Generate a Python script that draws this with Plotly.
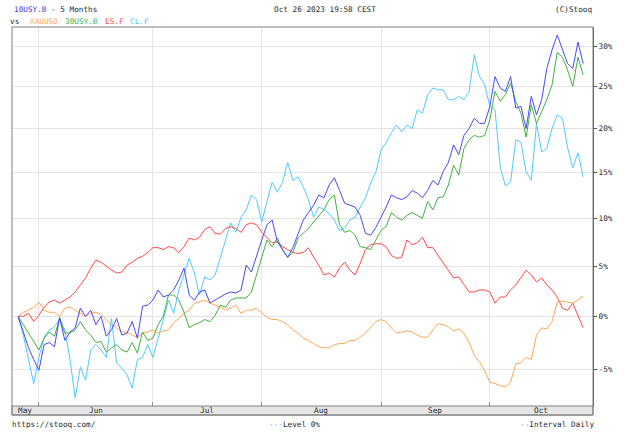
import numpy as np
import pandas as pd
import plotly.graph_objects as go

# ---------------- data (percent change since start) ----------------
dates = pd.bdate_range("2023-05-26", "2023-10-26")  # daily trading sessions

usy10 = [0.0, -1.6, -3.0, -4.1, -5.1, -2.7, -2.5, -2.9, -0.1, -2.3,
         -1.5, -1.1, 0.8, 0.0, 0.6, -0.8, 0.0, -1.9, -1.3, -0.2,
         -1.8, -1.6, -0.5, -2.1, 1.0, 1.1, 1.6, 2.6, 1.9, 2.1,
         2.6, 3.6, 4.8, 2.1, 1.6, 2.4, 2.6, 1.3, 1.6, 1.9,
         2.2, 2.4, 2.3, 2.6, 5.1, 4.4, 6.1, 7.7, 9.3, 9.8,
         7.5, 6.7, 5.9, 6.9, 8.4, 9.8, 10.6, 11.4, 12.5, 12.2,
         13.6, 14.4, 13.0, 11.6, 11.4, 11.2, 10.3, 8.4, 8.2, 9.0,
         10.1, 11.2, 12.5, 12.2, 12.0, 12.3, 13.0, 12.7, 12.2, 13.0,
         14.1, 13.6, 15.1, 16.1, 18.1, 17.0, 19.2, 20.0, 21.2, 20.6,
         20.6, 22.6, 26.2, 24.8, 24.4, 26.2, 22.4, 22.6, 20.0, 23.8,
         21.6, 23.4, 27.2, 29.5, 31.4, 29.5, 27.8, 27.2, 30.5, 27.8]

xauusd = [0.0, 0.4, 0.6, 0.9, 1.4, 0.6, 0.4, 0.4, 0.0, 0.8,
          0.9, 0.6, 0.3, 0.0, 0.3, 0.4, 0.2, -0.3, -0.8, -1.1,
          -1.5, -1.5, -1.8, -2.0, -1.6, -1.5, -1.3, -1.6, -1.4, -1.3,
          -0.6, -0.2, 0.3, 0.6, 1.3, 1.4, 1.6, 1.3, 1.1, 0.9,
          0.6, 0.8, 1.1, 0.3, 0.6, 0.6, 0.8, 0.3, -0.1, -0.3,
          -0.3, -0.5, -0.8, -1.3, -1.6, -2.1, -2.3, -2.6, -2.9, -3.0,
          -3.0, -2.7, -2.6, -2.6, -2.3, -2.3, -2.0, -1.6, -1.0, -0.5,
          -0.3, -0.5, -1.1, -1.6, -1.5, -1.4, -1.5, -1.8, -2.0, -2.0,
          -1.3, -0.7, -0.8, -1.0, -1.4, -1.2, -1.6, -2.5, -3.7, -4.3,
          -5.1, -6.2, -6.3, -6.5, -6.6, -6.2, -4.5, -4.4, -3.9, -4.1,
          -1.8, -1.1, -1.2, -0.5, 1.4, 1.5, 1.4, 1.3, 1.6, 2.0]

usy30 = [0.0, -0.8, -1.6, -2.5, -3.2, -2.1, -1.5, -1.9, -0.2, -1.6,
         -1.6, -1.3, -0.5, -1.3, -1.8, -2.5, -2.4, -3.4, -3.0, -2.7,
         -3.2, -3.4, -2.5, -3.5, -1.5, -2.3, -2.1, -0.8, 0.0, 2.1,
         2.1, 1.6, 0.4, -1.1, -0.8, -0.6, -0.3, -0.5, 0.1, 1.1,
         0.9, 1.6, 1.8, 1.8, 1.8, 2.4, 4.1, 5.8, 7.7, 7.0,
         7.9, 6.7, 5.9, 6.4, 7.9, 8.4, 8.9, 9.6, 10.3, 10.9,
         12.0, 12.5, 9.3, 8.5, 8.7, 8.2, 7.0, 6.9, 6.7, 7.7,
         8.7, 9.1, 10.6, 10.1, 9.8, 10.3, 10.6, 10.3, 10.0, 11.8,
         10.9, 12.2, 12.3, 13.6, 15.8, 14.7, 17.7, 18.7, 19.2, 19.0,
         19.2, 21.0, 24.4, 23.2, 24.0, 25.4, 23.2, 21.8, 19.0, 22.8,
         20.6, 22.0, 23.4, 25.2, 29.2, 28.6, 27.0, 25.0, 28.6, 26.4]

esf = [0.0, 0.0, 0.3, -0.5, 0.1, 0.9, 1.4, 1.6, 1.3, 1.6,
       1.9, 2.4, 3.1, 3.8, 4.8, 5.6, 5.4, 5.0, 4.6, 4.3,
       4.4, 5.1, 5.4, 5.8, 6.0, 6.4, 6.9, 6.9, 6.7, 7.0,
       6.9, 6.4, 7.0, 7.9, 7.7, 8.0, 8.8, 9.1, 8.4, 8.3,
       8.9, 9.1, 8.9, 8.5, 9.3, 9.5, 9.3, 8.5, 7.9, 7.4,
       7.5, 7.0, 6.7, 6.4, 6.3, 6.4, 6.9, 5.9, 5.1, 4.1,
       4.3, 3.9, 4.8, 5.4, 4.6, 4.1, 5.3, 6.7, 7.2, 7.3,
       7.3, 7.0, 6.1, 5.8, 5.9, 7.7, 7.2, 7.4, 8.0, 6.9,
       6.9, 6.1, 5.4, 4.6, 3.8, 3.9, 3.1, 2.4, 2.4, 2.6,
       2.6, 2.4, 1.3, 1.9, 1.9, 2.6, 3.1, 3.9, 4.6, 4.1,
       3.4, 3.8, 3.1, 2.6, 1.9, 0.8, 0.6, 1.3, 0.1, -1.1]

clf = [0.0, -1.8, -4.1, -6.3, -3.9, -2.0, -1.3, -1.0, -0.2, -1.3,
       -4.1, -7.6, -4.8, -6.0, -3.2, -2.7, -3.2, -3.9, -0.2, -4.4,
       -4.9, -5.5, -6.7, -4.1, -3.9, -2.7, -3.9, -2.0, -0.3, 1.6,
       0.3, 2.6, 4.3, 5.8, 4.3, 2.1, 3.9, 3.6, 4.1, 5.9,
       7.9, 9.5, 8.5, 10.1, 10.9, 12.5, 12.0, 9.6, 11.8, 13.9,
       12.8, 13.9, 16.1, 14.1, 14.5, 13.4, 12.0, 10.1, 11.2, 10.9,
       10.5, 9.8, 8.7, 9.0, 9.8, 10.1, 11.2, 12.2, 13.8, 15.0,
       17.5, 18.4, 19.5, 20.4, 19.6, 20.4, 20.0, 22.2, 21.8, 24.0,
       24.8, 24.6, 24.6, 23.4, 23.4, 23.8, 23.4, 24.4, 28.9, 26.2,
       25.2, 22.6, 22.2, 15.6, 13.5, 13.9, 18.7, 18.4, 15.1, 14.1,
       20.6, 17.3, 17.7, 20.0, 21.6, 21.2, 17.8, 15.5, 17.2, 14.5]

series_names = ["10USY.B", "XAUUSD", "30USY.B", "ES.F", "CL.F"]
series_values = [usy10, xauusd, usy30, esf, clf]
series_colors = ["#4848f8", "#ffa650", "#40b240", "#ff4848", "#50caff"]

pct_ticks = [-5, 0, 5, 10, 15, 20, 25, 30]
pct_labels = ["-5%", "0%", "5%", "10%", "15%", "20%", "25%", "30%"]
month_labels = ["May", "Jun", "Jul", "Aug", "Sep", "Oct"]

# ---------------- figure ----------------
n = len(dates)
idx = np.arange(n)
xr = [-1.19, 110.9]

months = dates.month
month_starts = [i for i in range(1, n) if months[i] != months[i - 1]]
bounds = [xr[0]] + month_starts + [xr[1]]
label_pos = [(bounds[k] + bounds[k + 1]) / 2 for k in range(len(bounds) - 1)]

FONT = "DejaVu Sans Mono"
FS = 7.7
TXT = "#2a2a2a"

fig = go.Figure()
draw_order = [4, 3, 1, 2, 0]
for k in draw_order:
    fig.add_trace(go.Scatter(
        x=idx, y=1 + np.array(series_values[k]) / 100.0,
        mode="lines", name=series_names[k],
        line=dict(color=series_colors[k], width=1),
        hoverinfo="skip"))

W, H = 625, 439
L, R, T, B = 12, 29, 27, 33
ph = H - T - B
pw = W - L - R

def px(xp):
    return (xp - L) / pw

def py(yp):
    return (H - B - yp) / ph

shapes = []
# zero level (dotted)
shapes.append(dict(type="line", xref="paper", x0=0, x1=1, yref="y", y0=1.0, y1=1.0,
                   line=dict(color="#b4b4b4", width=1, dash="dot"), layer="below"))
# x-axis band under the plot
shapes.append(dict(type="rect", xref="paper", x0=0, x1=1, yref="paper", y0=-9 / ph, y1=0,
                   fillcolor="#e6e6e6", line=dict(color="#808080", width=1), layer="above"))
# frame
shapes.append(dict(type="rect", xref="paper", x0=0, x1=1, yref="paper", y0=-9 / ph, y1=1,
                   line=dict(color="#808080", width=1), layer="above"))

annotations = []
for lab, pos in zip(month_labels, label_pos):
    annotations.append(dict(x=pos, xref="x", y=-4.5 / ph, yref="paper", text=lab,
                            showarrow=False, xanchor="center", yanchor="middle",
                            font=dict(family=FONT, size=FS, color=TXT)))

def txt(x, y, s, color=TXT, anchor="left"):
    annotations.append(dict(x=px(x), y=py(y), xref="paper", yref="paper", text=s,
                            showarrow=False, xanchor=anchor, yanchor="middle",
                            font=dict(family=FONT, size=FS, color=color)))

txt(12, 10, '<span style="color:#3c3cdc">10USY.B</span> - 5 Months')
txt(8, 22, "vs")
txt(28, 22, "XAUUSD", series_colors[1])
txt(63, 22, "30USY.B", series_colors[2])
txt(103, 22, "ES.F", series_colors[3])
txt(129, 22, "CL.F", series_colors[4])
txt(273, 10, "Oct 26 2023 19:58 CEST")
txt(597, 10, "(C)Stooq", anchor="right")
txt(10, 424, "https://stooq.com/")
txt(268, 424, '<span style="color:#999">---</span>Level 0%')
txt(599, 424, '<span style="color:#999">--</span>Interval Daily', anchor="right")

fig.update_layout(
    width=W, height=H,
    margin=dict(l=L, r=R, t=T, b=B, pad=0),
    paper_bgcolor="white", plot_bgcolor="white",
    showlegend=False, hovermode=False,
    shapes=shapes, annotations=annotations,
    xaxis=dict(range=xr, tickmode="array", tickvals=month_starts, showticklabels=False,
               showgrid=True, gridcolor="#e4e4e4", gridwidth=1, zeroline=False,
               ticks="inside", ticklen=4, tickcolor="#909090", showline=False,
               fixedrange=True),
    yaxis=dict(type="log", side="right",
               range=[np.log10(0.91675), np.log10(1.3242)],
               tickmode="array", tickvals=[1 + t / 100 for t in pct_ticks], ticktext=pct_labels,
               showgrid=True, gridcolor="#e4e4e4", gridwidth=1, zeroline=False,
               ticks="outside", ticklen=3, tickcolor="#555555",
               showline=True, linecolor="#555555", linewidth=1,
               tickfont=dict(family=FONT, size=FS, color=TXT), fixedrange=True),
)

fig.write_html("out.html", config={"displayModeBar": False, "staticPlot": True})
